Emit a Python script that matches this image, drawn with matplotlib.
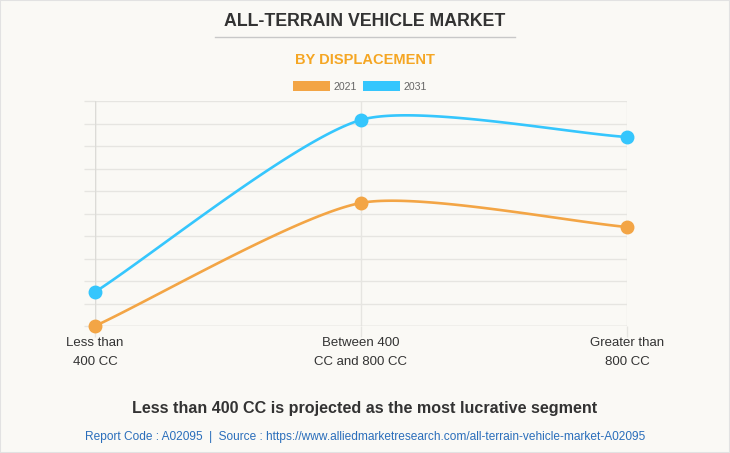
import numpy as np
import matplotlib
matplotlib.use("Agg")
import matplotlib.pyplot as plt
from matplotlib.lines import Line2D

plt.rcParams["font.family"] = ["Liberation Sans", "DejaVu Sans"]

categories = ["Less than\n400 CC", "Between 400\nCC and 800 CC", "Greater than\n800 CC"]
series_names = ["2021", "2031"]
values_2021 = [0.0, 5.47, 4.4]
values_2031 = [1.51, 9.16, 8.4]
colors = ["#f3a545", "#35c6fd"]

W, H, DPI = 730, 453, 100
BG = "#faf9f5"
GRID = "#e6e5e1"

fig = plt.figure(figsize=(W / DPI, H / DPI), dpi=DPI, facecolor=BG)
fig.patches.append(plt.Rectangle((0, 0), 1, 1, transform=fig.transFigure,
                                 fill=False, edgecolor="#e2e2e2", lw=1.5, zorder=0))

def fx(px):
    return px / W
def fy(py):
    return 1 - py / H

left, right, top, bottom = 95, 627, 101, 326
ax = fig.add_axes([fx(left), fy(bottom), fx(right) - fx(left), (bottom - top) / H])
ax.set_facecolor(BG)
ax.set_xlim(0, 2)
ax.set_ylim(0, 10)
for s in ax.spines.values():
    s.set_visible(False)
ax.set_yticks(np.arange(0, 11, 1))
ax.set_yticklabels([])
ax.tick_params(axis="y", length=8, color=GRID, width=1)
ax.set_xticks(range(len(categories)))
ax.set_xticklabels(categories, fontsize=9.5, color="#333333", linespacing=1.75)
ax.tick_params(axis="x", length=8, color=GRID, width=1, pad=0)
ax.grid(True, color=GRID, lw=1)
ax.set_axisbelow(True)
ax.axhline(0, color="#dcdbd7", lw=1, zorder=1)
ax.axvline(0, color="#dcdbd7", lw=1, zorder=1)


def chartjs_spline(xs, ys, t=0.22, n=60):
    pts = ax.transData.transform(np.column_stack([xs, ys]))
    m = len(pts)
    cps = []
    for i in range(m):
        prev = pts[i - 1] if i > 0 else pts[i]
        cur = pts[i]
        nxt = pts[i + 1] if i < m - 1 else pts[i]
        d01 = np.hypot(*(cur - prev))
        d12 = np.hypot(*(nxt - cur))
        tot = d01 + d12
        s01 = d01 / tot if tot else 0
        s12 = d12 / tot if tot else 0
        fa, fb = t * s01, t * s12
        cps.append((cur - fa * (nxt - prev), cur + fb * (nxt - prev)))
    out = []
    tt = np.linspace(0, 1, n)[:, None]
    for i in range(m - 1):
        p0, p3 = pts[i], pts[i + 1]
        p1, p2 = cps[i][1], cps[i + 1][0]
        seg = ((1 - tt) ** 3) * p0 + 3 * ((1 - tt) ** 2) * tt * p1 + 3 * (1 - tt) * tt ** 2 * p2 + tt ** 3 * p3
        out.append(seg if i == 0 else seg[1:])
    disp = np.vstack(out)
    data = ax.transData.inverted().transform(disp)
    return data[:, 0], data[:, 1]

xs = np.arange(len(categories))
for vals, c in zip([values_2021, values_2031], colors):
    sx, sy = chartjs_spline(xs, vals)
    ax.plot(sx, sy, color=c, lw=1.9, clip_on=False, zorder=3, solid_capstyle="round")
    ax.plot(xs, vals, "o", color=c, ms=9, clip_on=False, zorder=4)

# Titles
fig.text(0.5, fy(21.5), "ALL-TERRAIN VEHICLE MARKET", ha="center", va="center",
         fontsize=12.8, fontweight="bold", color="#333333")
fig.add_artist(Line2D([fx(215), fx(515)], [fy(37), fy(37)], color="#c8c8c8", lw=1))
fig.text(0.5, fy(59.5), "BY DISPLACEMENT", ha="center", va="center",
         fontsize=10.5, fontweight="bold", color="#f5a623")

# Legend
legend_items = [(293, series_names[0], colors[0]), (363, series_names[1], colors[1])]
for x0, lab, c in legend_items:
    fig.patches.append(plt.Rectangle((fx(x0), fy(91)), 37 / W, 10 / H,
                                     transform=fig.transFigure, facecolor=c, edgecolor="none"))
    fig.text(fx(x0 + 41), fy(86.5), lab, ha="left", va="center", fontsize=7.6, color="#666666")

fig.text(0.5, fy(409), "Less than 400 CC is projected as the most lucrative segment",
         ha="center", va="center", fontsize=11.6, fontweight="bold", color="#333333")
fig.text(0.5, fy(437),
         "Report Code : A02095  |  Source : https://www.alliedmarketresearch.com/all-terrain-vehicle-market-A02095",
         ha="center", va="center", fontsize=8.6, color="#2a6ebb")

fig.savefig("out.png", dpi=DPI, facecolor=BG)
